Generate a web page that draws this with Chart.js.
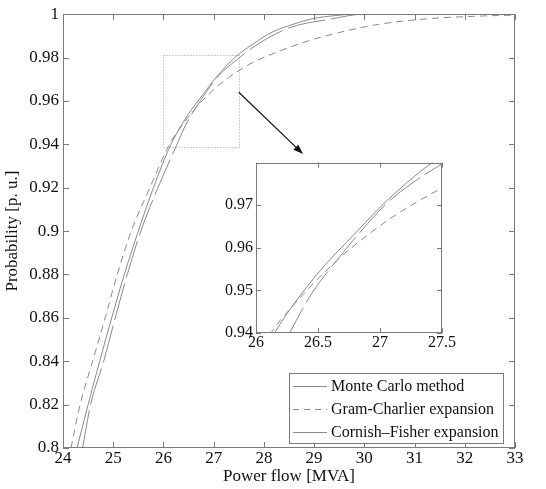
<!DOCTYPE html>
<html>
<head>
<meta charset="utf-8">
<script src="https://cdn.jsdelivr.net/npm/chart.js@4.4.0/dist/chart.umd.min.js"></script>
<style>
  html, body { margin: 0; padding: 0; background: #fff; }
  #wrap { position: relative; width: 546px; height: 489px; }
  #main { position: absolute; left: 0; top: 0; }
  #inset { position: absolute; left: 215px; top: 150px; }
</style>
</head>
<body>
<div id="wrap">
  <canvas id="main" width="546" height="489"></canvas>
  <canvas id="inset" width="245" height="205"></canvas>
</div>
<script>
// Monte Carlo method (solid)
const mcX = [24.28, 24.50, 24.73, 24.97, 25.22, 25.50, 25.80, 26.15, 26.49, 26.79, 27.05, 27.42, 27.80, 28.16, 28.60, 28.98, 29.40, 29.80, 30.50, 33.00];
const mcY = [0.800, 0.820, 0.840, 0.860, 0.880, 0.900, 0.920, 0.940, 0.9537, 0.9631, 0.9709, 0.9800, 0.9865, 0.9917, 0.9955, 0.9980, 0.9993, 1.000, 1.000, 1.000];
// Gram-Charlier expansion (dashed)
const gcX = [24.16, 24.34, 24.59, 24.84, 25.08, 25.36, 25.73, 26.12, 26.30, 26.50, 26.70, 26.90, 27.10, 27.30, 27.50, 27.80, 28.18, 28.54, 29.00, 29.49, 30.20, 31.20, 32.16, 33.00];
const gcY = [0.800, 0.820, 0.840, 0.860, 0.880, 0.900, 0.920, 0.940, 0.9465, 0.9527, 0.9583, 0.9630, 0.9672, 0.9708, 0.9740, 0.9780, 0.9818, 0.9850, 0.9885, 0.9915, 0.9950, 0.9978, 0.9990, 0.9996];
// Cornish-Fisher expansion (long dash)
const cfX = [24.39, 24.55, 24.81, 25.04, 25.28, 25.55, 25.89, 26.27, 26.45, 26.65, 26.85, 27.05, 27.25, 27.46, 27.80, 28.48, 29.34, 30.00, 33.00];
const cfY = [0.800, 0.820, 0.840, 0.860, 0.880, 0.900, 0.920, 0.940, 0.9493, 0.9570, 0.9640, 0.9703, 0.9750, 0.9790, 0.9850, 0.9935, 0.9978, 1.000, 1.000];

const seriesNames = ['Monte Carlo method', 'Gram-Charlier expansion', 'Cornish\u2013Fisher expansion'];

const xTicks = [24, 25, 26, 27, 28, 29, 30, 31, 32, 33];
const yTicks = [0.8, 0.82, 0.84, 0.86, 0.88, 0.9, 0.92, 0.94, 0.96, 0.98, 1];
const insetXTicks = [26, 26.5, 27, 27.5];
const insetYTicks = [0.94, 0.95, 0.96, 0.97, 0.98];
const insetYLabels = ['0.94', '0.95', '0.96', '0.97', ''];

// zoomed window: [xMin, xMax, yMin, yMax]
const zoomWindow = [26, 27.5, 0.939, 0.981];

const serif = '"Liberation Serif", "DejaVu Serif", serif';
const lineColor = '#8a8a8a';

function toPoints(xs, ys) {
    return xs.map((x, i) => ({ x: x, y: ys[i] }));
}

function makeDatasets() {
    return [
        { label: seriesNames[0], data: toPoints(mcX, mcY), borderDash: [] },
        { label: seriesNames[1], data: toPoints(gcX, gcY), borderDash: [7, 5] },
        { label: seriesNames[2], data: toPoints(cfX, cfY), borderDash: [38, 6] }
    ].map(d => Object.assign(d, {
        borderColor: lineColor,
        borderWidth: 1,
        pointRadius: 0,
        fill: false,
        cubicInterpolationMode: 'monotone'
    }));
}

function fmt(v) {
    return String(Number(v.toFixed(3)));
}

// box with inward tick marks, matlab style
const framePlugin = {
    id: 'frame',
    afterDraw(chart) {
        const { ctx, chartArea: a, scales } = chart;
        const len = chart.canvas.id === 'main' ? 6 : 5;
        ctx.save();
        ctx.strokeStyle = '#7a7a7a';
        ctx.lineWidth = 1;
        ctx.beginPath();
        scales.x.ticks.forEach(t => {
            const px = Math.round(scales.x.getPixelForValue(t.value)) + 0.5;
            ctx.moveTo(px, a.bottom); ctx.lineTo(px, a.bottom - len);
            ctx.moveTo(px, a.top); ctx.lineTo(px, a.top + len);
        });
        scales.y.ticks.forEach(t => {
            const py = Math.round(scales.y.getPixelForValue(t.value)) + 0.5;
            ctx.moveTo(a.left, py); ctx.lineTo(a.left + len, py);
            ctx.moveTo(a.right, py); ctx.lineTo(a.right - len, py);
        });
        ctx.stroke();
        ctx.strokeRect(Math.round(a.left) + 0.5, Math.round(a.top) + 0.5,
            Math.round(a.right - a.left) - 1, Math.round(a.bottom - a.top) - 1);
        ctx.restore();
    }
};

// dotted zoom window, arrow and legend on the main axes
const decorPlugin = {
    id: 'decor',
    afterDraw(chart) {
        const { ctx, chartArea: a, scales: { x, y } } = chart;
        ctx.save();

        // dotted rectangle
        const x0 = Math.round(x.getPixelForValue(zoomWindow[0])) + 0.5;
        const x1 = Math.round(x.getPixelForValue(zoomWindow[1])) + 0.5;
        const y0 = Math.round(y.getPixelForValue(zoomWindow[3])) + 0.5;
        const y1 = Math.round(y.getPixelForValue(zoomWindow[2])) + 0.5;
        ctx.strokeStyle = '#9a9a9a';
        ctx.setLineDash([1, 2]);
        ctx.strokeRect(x0, y0, x1 - x0, y1 - y0);
        ctx.setLineDash([]);

        // arrow towards the inset
        const ax = x.getPixelForValue(27.5), ay = y.getPixelForValue(0.964);
        const bx = x.getPixelForValue(28.78), by = y.getPixelForValue(0.9355);
        const ang = Math.atan2(by - ay, bx - ax);
        ctx.strokeStyle = '#111';
        ctx.fillStyle = '#111';
        ctx.lineWidth = 1.2;
        ctx.beginPath();
        ctx.moveTo(ax, ay);
        ctx.lineTo(bx - 6 * Math.cos(ang), by - 6 * Math.sin(ang));
        ctx.stroke();
        ctx.beginPath();
        ctx.moveTo(bx, by);
        ctx.lineTo(bx - 10 * Math.cos(ang) + 3.5 * Math.sin(ang), by - 10 * Math.sin(ang) - 3.5 * Math.cos(ang));
        ctx.lineTo(bx - 10 * Math.cos(ang) - 3.5 * Math.sin(ang), by - 10 * Math.sin(ang) + 3.5 * Math.cos(ang));
        ctx.closePath();
        ctx.fill();

        // legend
        ctx.font = '16px ' + serif;
        const textW = Math.max(...chart.data.datasets.map(d => ctx.measureText(d.label).width));
        const rowH = 23;
        const boxW = Math.round(42 + textW + 4);
        const boxH = rowH * chart.data.datasets.length + 1;
        const right = Math.round(a.right) - 12;
        const bottom = Math.round(a.bottom) - 5;
        const left = right - boxW, top = bottom - boxH;
        ctx.fillStyle = '#fff';
        ctx.fillRect(left, top, boxW, boxH);
        ctx.strokeStyle = '#7a7a7a';
        ctx.lineWidth = 1;
        ctx.strokeRect(left + 0.5, top + 0.5, boxW, boxH);
        ctx.textBaseline = 'middle';
        ctx.textAlign = 'left';
        chart.data.datasets.forEach((d, i) => {
            const cy = Math.round(top + 13 + i * rowH) + 0.5;
            ctx.strokeStyle = d.borderColor;
            // the long dash of the last series is longer than the sample, so it reads solid
            ctx.setLineDash(i === 1 ? [6, 5] : []);
            ctx.beginPath();
            ctx.moveTo(left + 4, cy);
            ctx.lineTo(left + 38, cy);
            ctx.stroke();
            ctx.setLineDash([]);
            ctx.fillStyle = '#111';
            ctx.fillText(d.label, left + 42, cy);
        });
        ctx.restore();
    }
};

new Chart(document.getElementById('main'), {
    type: 'line',
    data: { datasets: makeDatasets() },
    options: {
        responsive: false,
        animation: false,
        layout: { padding: { top: 12, right: 31, left: 0, bottom: 0 } },
        plugins: { legend: { display: false }, tooltip: { enabled: false } },
        scales: {
            x: {
                type: 'linear', min: 24, max: 33,
                afterBuildTicks: s => { s.ticks = xTicks.map(v => ({ value: v })); },
                afterFit: s => { s.height = 41; },
                grid: { display: false, drawTicks: false },
                border: { display: false },
                ticks: { padding: 0, color: '#111', maxRotation: 0, autoSkip: false,
                    font: { family: serif, size: 17 }, callback: v => fmt(v) },
                title: { display: true, text: 'Power flow [MVA]', color: '#111',
                    font: { family: serif, size: 17 }, padding: { top: 0, bottom: 2 } }
            },
            y: {
                type: 'linear', min: 0.8, max: 1,
                afterBuildTicks: s => { s.ticks = yTicks.map(v => ({ value: v })); },
                afterFit: s => { s.width = 63; },
                grid: { display: false, drawTicks: false },
                border: { display: false },
                ticks: { padding: 4, color: '#111', autoSkip: false,
                    font: { family: serif, size: 17 }, callback: v => fmt(v) },
                title: { display: true, text: 'Probability [p. u.]', color: '#111',
                    font: { family: serif, size: 17 }, padding: { top: 2, bottom: 0 } }
            }
        }
    },
    plugins: [framePlugin, decorPlugin]
});

new Chart(document.getElementById('inset'), {
    type: 'line',
    data: { datasets: makeDatasets() },
    options: {
        responsive: false,
        animation: false,
        layout: { padding: { top: 4, right: 18, left: 0, bottom: 0 } },
        plugins: { legend: { display: false }, tooltip: { enabled: false } },
        scales: {
            x: {
                type: 'linear', min: 26, max: 27.5,
                afterBuildTicks: s => { s.ticks = insetXTicks.map(v => ({ value: v })); },
                afterFit: s => { s.height = 22; },
                grid: { display: false, drawTicks: false },
                border: { display: false },
                ticks: { padding: 0, color: '#111', maxRotation: 0, autoSkip: false,
                    font: { family: serif, size: 16 }, callback: v => fmt(v) }
            },
            y: {
                type: 'linear', min: 0.94, max: 0.98,
                afterBuildTicks: s => { s.ticks = insetYTicks.map(v => ({ value: v })); },
                afterFit: s => { s.width = 41; },
                grid: { display: false, drawTicks: false },
                border: { display: false },
                ticks: { padding: 3, color: '#111', autoSkip: false,
                    font: { family: serif, size: 16 },
                    callback: (v, i) => insetYLabels[i] }
            }
        }
    },
    plugins: [framePlugin]
});
</script>
</body>
</html>
